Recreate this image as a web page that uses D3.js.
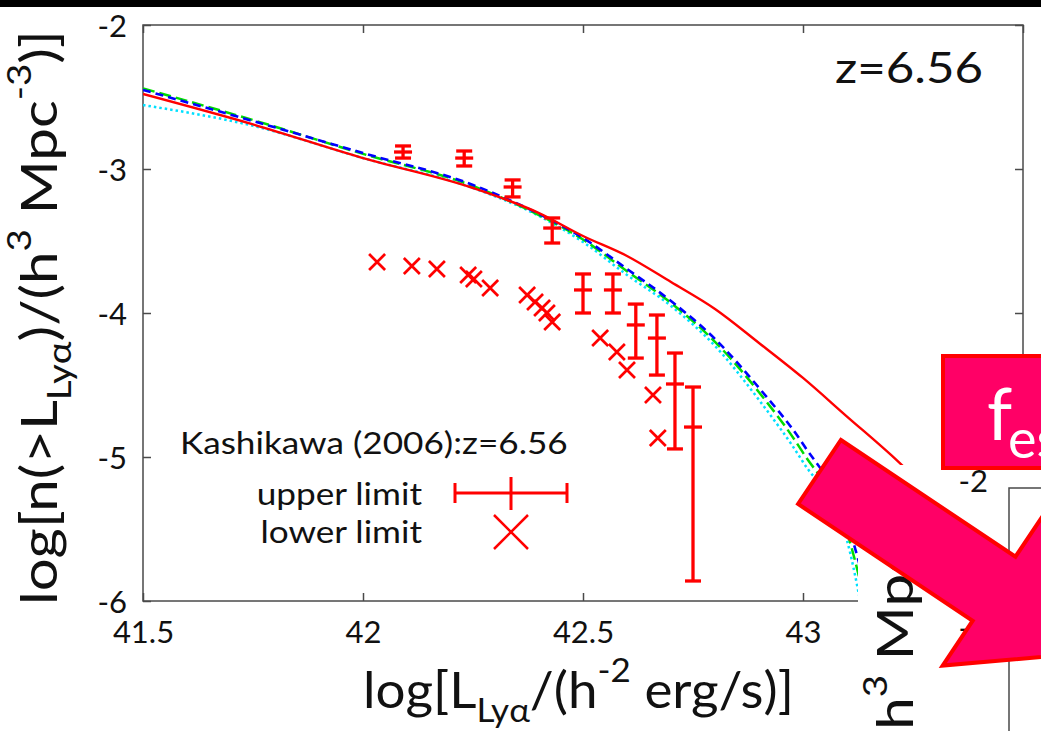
<!DOCTYPE html>
<html><head><meta charset="utf-8">
<script src="https://cdn.jsdelivr.net/npm/d3@7"></script>
<style>html,body{margin:0;padding:0;background:#fff;overflow:hidden}</style>
</head><body><svg id="c" width="1041" height="731"></svg>
<script>
// ---------------- data ----------------
const xTicks = [41.5, 42, 42.5, 43, 43.5];
const xTickLabels = ["41.5", "42", "42.5", "43", ""];
const yTicks = [-6, -5, -4, -3, -2];
const yTickLabels = ["-6", "-5", "-4", "-3", "-2"];

// model curves: log L  and  log n(>L)
const redL   = [41.5, 41.75, 42.0, 42.25, 42.4, 42.5, 42.6, 42.7, 42.8, 42.9, 43.0, 43.1, 43.2, 43.3];
const redN   = [-2.479, -2.69, -2.924, -3.132, -3.306, -3.465, -3.604, -3.785, -3.972, -4.208, -4.451, -4.719, -4.986, -5.28];
const greenL = [41.5, 41.75, 42.0, 42.25, 42.4, 42.5, 42.6, 42.7, 42.8, 42.9, 43.0, 43.1, 43.12, 43.14];
const greenN = [-2.44, -2.66, -2.895, -3.118, -3.32, -3.49, -3.71, -3.93, -4.20, -4.55, -4.97, -5.52, -5.74, -6.0];
const blueL  = [41.5, 41.75, 42.0, 42.25, 42.4, 42.5, 42.6, 42.7, 42.8, 42.9, 43.0, 43.1, 43.15];
const blueN  = [-2.451, -2.667, -2.889, -3.111, -3.312, -3.479, -3.694, -3.917, -4.18, -4.52, -4.91, -5.45, -6.0];
const cyanL  = [41.5, 41.75, 42.0, 42.25, 42.4, 42.5, 42.6, 42.7, 42.8, 42.9, 43.0, 43.1, 43.13];
const cyanN  = [-2.556, -2.70, -2.924, -3.132, -3.326, -3.507, -3.736, -3.951, -4.229, -4.604, -5.035, -5.58, -6.0];

// Kashikawa (2006) upper limits (value, upper end, lower end)
const ulL  = [42.091, 42.230, 42.34, 42.43, 42.5, 42.568, 42.62, 42.668, 42.709, 42.75];
const ulN  = [-2.882, -2.924, -3.125, -3.410, -3.840, -3.840, -4.083, -4.174, -4.493, -4.792];
const ulHi = [-2.840, -2.875, -3.076, -3.340, -3.729, -3.729, -3.938, -4.014, -4.278, -4.514];
const ulLo = [-2.924, -2.979, -3.194, -3.514, -4.000, -4.000, -4.313, -4.431, -4.944, -5.861];

// Kashikawa (2006) lower limits
const llL = [42.032, 42.111, 42.168, 42.239, 42.252, 42.289, 42.373, 42.391, 42.407, 42.418, 42.430, 42.539, 42.577, 42.600, 42.659, 42.670];
const llN = [-3.646, -3.674, -3.694, -3.736, -3.764, -3.826, -3.875, -3.924, -3.965, -4.000, -4.063, -4.174, -4.271, -4.396, -4.569, -4.868];

const legendTitle = "Kashikawa (2006):z=6.56";
const legendUpper = "upper limit";
const legendLower = "lower limit";
const panelLabel = "z=6.56";
const fescMain = "f", fescSub = "esc";
const yLabelParts = [{t:"log[n(>L"},{t:"Lyα",sub:1},{t:")/(h"},{t:"3",sup:1},{t:" Mpc"},{t:"-3",sup:1},{t:")]"}];
const xLabelParts = [{t:"log[L"},{t:"Lyα",sub:1},{t:"/(h"},{t:"-2",sup:1},{t:" erg/s)]"}];

// ---------------- drawing ----------------
const FONT = "Lato, 'Open Sans', sans-serif";
const svg = d3.select("#c").style("font-family", FONT);
svg.append("rect").attr("width",1041).attr("height",731).attr("fill","#fff");
svg.append("rect").attr("width",1041).attr("height",7).attr("fill","#000");

const x = d3.scaleLinear().domain([41.5, 43.5]).range([143, 1023]);
const y = d3.scaleLinear().domain([-6, -2]).range([601, 25]);
const AX = "#4a4a4a";

const defs = svg.append("defs");
defs.append("clipPath").attr("id","plotclip")
  .append("rect").attr("x",143).attr("y",25).attr("width",880).attr("height",576);
defs.append("clipPath").attr("id","lab2clip")
  .append("rect").attr("x",858).attr("y",500).attr("width",183).attr("height",231);

// axes
const gB = svg.append("g").attr("transform","translate(0,601)")
  .call(d3.axisBottom(x).tickValues(xTicks).tickSize(-8).tickFormat((d,i)=>xTickLabels[i]));
gB.selectAll("text").attr("y",42).attr("dy",0).attr("font-size",31).attr("fill","#111");
const gT = svg.append("g").attr("transform","translate(0,25)")
  .call(d3.axisTop(x).tickValues(xTicks).tickSize(-8).tickFormat(""));
const gL = svg.append("g").attr("transform","translate(143,0)")
  .call(d3.axisLeft(y).tickValues(yTicks).tickSize(-8).tickFormat((d,i)=>yTickLabels[i]));
gL.selectAll("text").attr("x",-16).attr("dy","0.36em").attr("font-size",31).attr("fill","#111");
const gR = svg.append("g").attr("transform","translate(1023,0)")
  .call(d3.axisRight(y).tickValues(yTicks).tickSize(-8).tickFormat(""));
[gB,gT,gL,gR].forEach(g=>{
  g.select(".domain").remove();
  g.selectAll(".tick line").attr("stroke",AX).attr("stroke-width",1.5);
  g.attr("font-family",FONT);
});
svg.append("rect").attr("x",143).attr("y",25).attr("width",880).attr("height",576)
  .attr("fill","none").attr("stroke",AX).attr("stroke-width",1.5);

// curves
const line = d3.line().x(d=>x(d[0])).y(d=>y(d[1])).curve(d3.curveMonotoneX);
const curves = svg.append("g").attr("clip-path","url(#plotclip)");
function drawCurve(L, N, color, dash, w) {
  curves.append("path").datum(L.map((v,i)=>[v,N[i]]))
    .attr("d", line).attr("fill","none").attr("stroke",color)
    .attr("stroke-width",w).attr("stroke-dasharray",dash);
}
drawCurve(cyanL, cyanN, "#00e0ff", "2.5,3", 2.5);
drawCurve(greenL, greenN, "#00dd00", "12,5", 2.5);
drawCurve(blueL, blueN, "#0000ff", "8,5", 2.6);
drawCurve(redL, redN, "#ff0000", null, 2.4);

// upper-limit error bars
const eb = svg.append("g").attr("stroke","#ff0000").attr("stroke-width",3.3).attr("fill","none");
ulL.forEach((L,i)=>{
  const px = x(L);
  eb.append("line").attr("x1",px).attr("x2",px).attr("y1",y(ulHi[i])).attr("y2",y(ulLo[i]));
  eb.append("line").attr("x1",px-8).attr("x2",px+8).attr("y1",y(ulHi[i])).attr("y2",y(ulHi[i]));
  eb.append("line").attr("x1",px-8).attr("x2",px+8).attr("y1",y(ulLo[i])).attr("y2",y(ulLo[i]));
  eb.append("line").attr("x1",px-9).attr("x2",px+9).attr("y1",y(ulN[i])).attr("y2",y(ulN[i]));
});
// lower-limit crosses
const xm = svg.append("g").attr("stroke","#ff0000").attr("stroke-width",2.7).attr("fill","none");
llL.forEach((L,i)=>{
  xm.append("path").attr("transform",`translate(${x(L)},${y(llN[i])})`).attr("d","M-8,-8L8,8M-8,8L8,-8");
});

// helpers for rich text
function rich(g, parts, fs, subK, supK, sizeK) {
  const t = g.append("text").attr("font-size",fs).attr("fill","#111");
  let cur = 0;
  parts.forEach(p=>{
    let shift = 0, size = fs;
    if (p.sub) { shift = subK*fs; size = sizeK*fs; }
    if (p.sup) { shift = -supK*fs; size = sizeK*fs; }
    t.append("tspan").attr("dy", shift-cur).attr("font-size",size).text(p.t);
    cur = shift;
  });
  return t;
}

// x label
{
  const g = svg.append("g");
  const t = rich(g, xLabelParts, 50, 0.28, 0.52, 0.66);
  const sx = 431 / t.node().getBBox().width;
  g.attr("transform",`translate(363,708) scale(${sx},1)`);
}
// y label (main)
let ySx = 1;
{
  const g = svg.append("g");
  const t = rich(g, yLabelParts, 50, 0.28, 0.52, 0.66);
  ySx = 575 / t.node().getBBox().width;
  g.attr("transform",`translate(57,605) rotate(-90) scale(${ySx},1)`);
}

// panel label
{
  const t = svg.append("text").attr("x",0).attr("y",0).attr("font-size",43).attr("fill","#111").text(panelLabel);
  const sx = 148 / t.node().getBBox().width;
  t.attr("transform",`translate(835,83) scale(${sx},1)`);
}

// legend
let lSx = 1;
{
  const t = svg.append("text").attr("font-size",31).attr("fill","#111").text(legendTitle);
  lSx = 388 / t.node().getBBox().width;
  t.attr("transform",`translate(180,454) scale(${lSx},1)`);
  svg.append("text").attr("font-size",31).attr("fill","#111").attr("text-anchor","end")
    .attr("transform",`translate(422,505) scale(${lSx},1)`).text(legendUpper);
  svg.append("text").attr("font-size",31).attr("fill","#111").attr("text-anchor","end")
    .attr("transform",`translate(422,543) scale(${lSx},1)`).text(legendLower);
  const lg = svg.append("g").attr("stroke","#ff0000").attr("fill","none");
  lg.append("path").attr("stroke-width",3).attr("d","M455,493H567M455,483V503M567,483V503M511,477V510");
  lg.append("path").attr("stroke-width",2.5).attr("d","M494,515L528,549M494,549L528,515");
}

// ---------------- overlaid second panel (partially visible) ----------------
{
  const g = svg.append("g");
  g.append("rect").attr("x",858).attr("y",465).attr("width",183).attr("height",266).attr("fill","#fff");
  g.append("path").attr("d","M1009,731V488H1041").attr("fill","none").attr("stroke",AX).attr("stroke-width",1.5);
  g.append("path").attr("d","M1009,628H1017").attr("stroke",AX).attr("stroke-width",1.5);
  g.append("text").attr("font-size",31).attr("fill","#111").attr("text-anchor","end")
    .attr("x",988).attr("y",481).attr("dy","0.36em").text(yTickLabels[4]);
  g.append("text").attr("font-size",31).attr("fill","#111").attr("text-anchor","end")
    .attr("x",988).attr("y",628).attr("dy","0.36em").text(yTickLabels[3]);
  const outer = g.append("g").attr("clip-path","url(#lab2clip)");
  const lg = outer.append("g");
  const t = rich(lg, yLabelParts, 50, 0.28, 0.52, 0.66);
  const pM = t.node().getStartPositionOfChar(17).x;
  lg.attr("transform",`translate(913,${660 + ySx*pM}) rotate(-90) scale(${ySx},1)`);
}

// f_esc box
{
  svg.append("rect").attr("x",943).attr("y",356).attr("width",120).attr("height",112)
    .attr("fill","#ff0066").attr("stroke","#ff0000").attr("stroke-width",4);
  svg.append("text").attr("x",987).attr("y",440).attr("font-size",72).attr("fill","#fff").text(fescMain);
  svg.append("text").attr("x",1008).attr("y",458).attr("font-size",54).attr("fill","#fff").text(fescSub);
}

// big arrow
{
  const tail = [819.5, 472], ang = Math.atan2(117,175);
  const u = [Math.cos(ang), Math.sin(ang)], n = [-u[1], u[0]];
  const shaftLen = 210, halfW = 38.5, headHalf = 92.5, headLen = 115;
  const P = (a,b)=>[tail[0]+u[0]*a+n[0]*b, tail[1]+u[1]*a+n[1]*b];
  const pts = [P(0,-halfW), P(shaftLen,-halfW), P(shaftLen,-headHalf), P(shaftLen+headLen,0),
               P(shaftLen,headHalf), P(shaftLen,halfW), P(0,halfW)];
  svg.append("polygon").attr("points", pts.map(p=>p.join(",")).join(" "))
    .attr("fill","#ff0066").attr("stroke","#ff0000").attr("stroke-width",4).attr("stroke-linejoin","miter");
}
</script></body></html>
